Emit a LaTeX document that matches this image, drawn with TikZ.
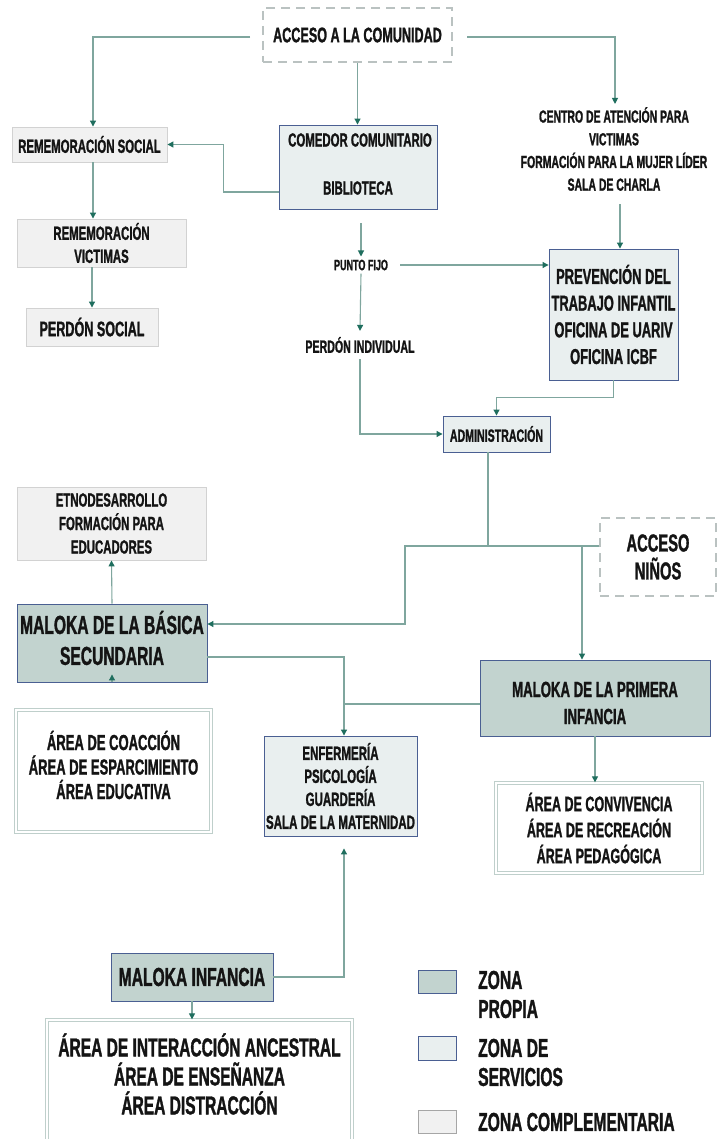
\documentclass[tikz,border=0pt]{standalone}
\usepackage{fontspec}
\newfontfamily\cf{Liberation Sans Bold}[FakeStretch=0.6,FakeBold=1.2]
\usetikzlibrary{arrows.meta,calc}
\definecolor{propia}{HTML}{C2D3CF}
\definecolor{servi}{HTML}{E9EFEF}
\definecolor{compl}{HTML}{F1F1F1}
\definecolor{bluebd}{HTML}{4A5F92}
\definecolor{graybd}{HTML}{D2D2D2}
\definecolor{dblbd}{HTML}{BFCFCB}
\definecolor{dashbd}{HTML}{BAC2C1}
\definecolor{linec}{HTML}{7FA69E}
\definecolor{arrc}{HTML}{1F6E5E}
\definecolor{txtc}{HTML}{141414}
\newcommand\ff[2]{\cf\fontsize{#1}{#2}\selectfont}
\tikzset{
 box/.style={inner sep=0pt, line width=0.9pt},
 bpropia/.style={box, fill=propia, draw=bluebd},
 bservi/.style={box, fill=servi, draw=bluebd},
 bcompl/.style={box, fill=compl, draw=graybd},
 bdouble/.style={box, fill=white, draw=dblbd, double=white, double distance=1.2pt, line width=1.3pt},
 bdash/.style={box, draw=dashbd, line width=2.8pt, dash pattern=on 9pt off 6pt},
 lbl/.style={align=center, inner sep=0pt, text=txtc},
 conn/.style={draw=linec, line width=1.1pt, -{Triangle[length=6pt,width=6pt,color=arrc]}},
 plain/.style={draw=linec, line width=1.1pt},
}
\begin{document}
\begin{tikzpicture}[x=1pt,y=-1pt]
\useasboundingbox[fill=white] (0,0) rectangle (722,1139);
% boxes
\node[bdash, lbl, minimum width=189pt, minimum height=54pt, font=\ff{21}{24}] (acc) at (357.5,35) {ACCESO A LA COMUNIDAD};
\node[bcompl, lbl, minimum width=155pt, minimum height=35pt, font=\ff{19}{22}] (remS) at (89.5,144.5) {REMEMORACIÓN SOCIAL};
\node[bservi, minimum width=158pt, minimum height=84pt] (com) at (358,167) {};
\node[lbl, font=\ff{19}{22}] (comT1) at (360,140) {COMEDOR COMUNITARIO};
\node[lbl, font=\ff{19}{22}] (comT2) at (358,188) {BIBLIOTECA};
\node[lbl, font=\ff{17.4}{22.7}, inner sep=3pt] (centro) at (614,149) {CENTRO DE ATENCIÓN PARA\\VICTIMAS\\FORMACIÓN PARA LA MUJER LÍDER\\SALA DE CHARLA};
\node[bcompl, lbl, minimum width=169pt, minimum height=48pt, font=\ff{19}{23}] (remV) at (101.5,243) {REMEMORACIÓN\\VICTIMAS};
\node[bcompl, lbl, minimum width=132pt, minimum height=38pt, font=\ff{21}{24}] (perS) at (92,327) {PERDÓN SOCIAL};
\node[lbl, font=\ff{15}{18}, inner xsep=12pt, inner ysep=3pt] (punto) at (361,265) {PUNTO FIJO};
\node[lbl, font=\ff{17.7}{20}, inner sep=6pt] (perI) at (360,345) {PERDÓN INDIVIDUAL};
\node[bservi, lbl, minimum width=129pt, minimum height=131pt, font=\ff{21.5}{26.7}] (prev) at (613.5,314.5) {PREVENCIÓN DEL\\TRABAJO INFANTIL\\OFICINA DE UARIV\\OFICINA ICBF};
\node[bservi, lbl, minimum width=107pt, minimum height=36pt, font=\ff{17.7}{20}] (adm) at (496.5,434) {ADMINISTRACIÓN};
\node[bcompl, lbl, minimum width=189pt, minimum height=73pt, font=\ff{19}{23.5}] (etno) at (111.5,523.5) {ETNODESARROLLO\\FORMACIÓN PARA\\EDUCADORES};
\node[bdash, lbl, minimum width=116pt, minimum height=78pt, font=\ff{24.5}{28}] (accN) at (658,557) {ACCESO\\NIÑOS};
\node[bpropia, minimum width=190pt, minimum height=78pt] (malB) at (112,643) {};
\node[lbl, font=\ff{26}{31}] (malBT) at (112,638) {MALOKA DE LA BÁSICA\\SECUNDARIA};
\node[bpropia, minimum width=230pt, minimum height=76pt] (malP) at (595,698) {};
\node[lbl, font=\ff{22}{27}] (malPT) at (595,703) {MALOKA DE LA PRIMERA\\INFANCIA};
\node[bdouble, minimum width=195pt, minimum height=122pt] (coac) at (113.5,771) {};
\node[lbl, font=\ff{21.7}{24.5}] (coacT) at (113.5,765) {ÁREA DE COACCIÓN\\ÁREA DE ESPARCIMIENTO\\ÁREA EDUCATIVA};
\node[bservi, lbl, minimum width=153pt, minimum height=100pt, font=\ff{19.2}{23}] (enf) at (340.5,786) {ENFERMERÍA\\PSICOLOGÍA\\GUARDERÍA\\SALA DE LA MATERNIDAD};
\node[bdouble, lbl, minimum width=206pt, minimum height=90pt, font=\ff{20.9}{26}] (conv) at (599,828) {ÁREA DE CONVIVENCIA\\ÁREA DE RECREACIÓN\\ÁREA PEDAGÓGICA};
\node[bpropia, lbl, minimum width=162pt, minimum height=48pt, font=\ff{26}{30}] (malI) at (192,977) {MALOKA INFANCIA};
\node[bdouble, minimum width=305pt, minimum height=140pt] (inter) at (199.5,1090) {};
\node[lbl, font=\ff{25.9}{29}] (interT) at (199.5,1074) {ÁREA DE INTERACCIÓN ANCESTRAL\\ÁREA DE ENSEÑANZA\\ÁREA DISTRACCIÓN};
% legend
\node[bpropia, minimum width=38pt, minimum height=23pt] (sw1) at (437,981.5) {};
\node[lbl, align=left, anchor=west, font=\ff{26}{29}] (lg1) at (478,994.5) {ZONA\\PROPIA};
\node[bservi, minimum width=38pt, minimum height=24pt] (sw2) at (437,1048) {};
\node[lbl, align=left, anchor=west, font=\ff{26}{29}] (lg2) at (478,1062.5) {ZONA DE\\SERVICIOS};
\node[bcompl, draw=gray!70, minimum width=38pt, minimum height=23pt] (sw3) at (437,1121.5) {};
\node[lbl, align=left, anchor=west, font=\ff{26}{29}] (lg3) at (478,1122) {ZONA COMPLEMENTARIA};
% connectors
\coordinate (a1) at (250,37);
\coordinate (a2) at (467,37);
\draw[conn] (a1) -| ([xshift=3.5pt]remS.north);
\draw[conn] (acc.south) -- (acc.south |- com.north);
\draw[conn] (a2) -| ([xshift=1pt]centro.north);
\draw[conn] ([yshift=-25pt]com.west) -- ++(-55,0) |- (remS.east);
\draw[conn] ([xshift=3.5pt]remS.south) -- ([xshift=3.5pt]remS.south |- remV.north);
\draw[conn] (remV.south -| perS.north) -- (perS.north);
\draw[conn, shorten <=14pt] (punto.north |- com.south) -- (punto.north);
\draw[conn] (punto.east) -- (punto.east -| prev.west);
\draw[conn] (punto.south) -- (perI.north);
\draw[conn] (perI.south) |- (adm.west);
\draw[conn, shorten <=10pt] ([xshift=6pt]centro.south) -- ([xshift=6pt]centro.south |- prev.north);
\draw[conn] (prev.south) -- ++(0,17) -| (adm.north);
\coordinate (j1) at (488,546);
\coordinate (j2) at (582,546);
\coordinate (j3) at (344,704);
\draw[plain] (adm.south -| j1) -- (j1) -- (j1 -| accN.west);
\draw[conn] (j1) -- ++(-83,0) |- ([yshift=19pt]malB.east);
\draw[conn] (j2) -- (j2 |- malP.north);
\draw[conn] (malB.north) -- (etno.south);
\draw[conn] (malB.south) -- ++(0,-8);
\draw[conn] ([yshift=-14pt]malB.east) -| ([xshift=3.5pt]enf.north);
\draw[plain] ([yshift=-6pt]malP.west) -- (j3);
\draw[conn] (malP.south) -- (malP.south |- conv.north);
\draw[conn, shorten >=12pt] (malI.east) -| ([xshift=3.5pt]enf.south);
\draw[conn] (malI.south) -- (malI.south |- inter.north);
\end{tikzpicture}
\end{document}
